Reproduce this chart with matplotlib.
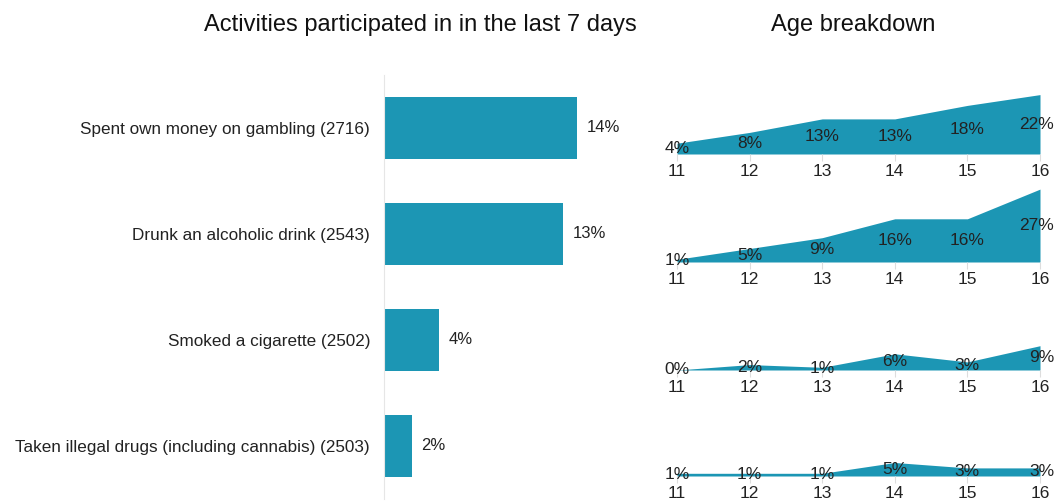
import numpy as np
import matplotlib
matplotlib.use("Agg")
import matplotlib.pyplot as plt

plt.rcParams['font.family'] = ['Liberation Sans', 'DejaVu Sans']

# data
activities = ["Spent own money on gambling (2716)",
              "Drunk an alcoholic drink (2543)",
              "Smoked a cigarette (2502)",
              "Taken illegal drugs (including cannabis) (2503)"]
overall = [14, 13, 4, 2]
ages = [11, 12, 13, 14, 15, 16]
gambling = [4, 8, 13, 13, 18, 22]
alcohol = [1, 5, 9, 16, 16, 27]
cigarette = [0, 2, 1, 6, 3, 9]
drugs = [1, 1, 1, 5, 3, 3]

teal = '#1c96b4'
txt = '#222222'
W, H = 1055, 501

fig = plt.figure(figsize=(W / 100, H / 100), dpi=100)

#-- bar chart
ax = fig.add_axes([384 / W, 2 / H, 260 / W, 424 / H])
y = np.arange(len(activities))
ax.barh(y, overall, height=0.585, color=teal)
ax.set_ylim(len(activities) - 0.5, -0.5)
ax.set_xlim(0, 260 / 13.8)
ax.set_yticks(y)
ax.set_yticklabels(activities, fontsize=12.3, color=txt)
ax.tick_params(axis='y', length=0, pad=10)
ax.set_xticks([])
for s in ['top', 'right', 'bottom']:
    ax.spines[s].set_visible(False)
ax.spines['left'].set_color('#e6e6e6')
for yi, v in zip(y, overall):
    ax.text(v + 0.7, yi, f"{v}%", va='center', ha='left', fontsize=12, color=txt)

fig.text(420 / W, 1 - 25 / H, "Activities participated in in the last 7 days",
         ha='center', va='center', fontsize=17, color='#111111')
fig.text(853 / W, 1 - 25 / H, "Age breakdown",
         ha='center', va='center', fontsize=17, color='#111111')

#-- age breakdown area panels
baselines = [154, 262, 370, 476]
series = [gambling, alcohol, cigarette, drugs]
for base, vals in zip(baselines, series):
    a = fig.add_axes([677 / W, 1 - base / H, 363 / W, 81 / H])
    a.fill_between(ages, 0, vals, color=teal, lw=0)
    a.set_xlim(11, 16)
    a.set_ylim(0, 30)
    a.set_xticks(ages)
    a.set_xticklabels([str(x) for x in ages], fontsize=12.5, color=txt)
    a.tick_params(axis='x', length=5, color='#dddddd', pad=2)
    a.set_yticks([])
    for s in a.spines.values():
        s.set_visible(False)
    for x, v in zip(ages, vals):
        if x == ages[-1]:
            # keep the last label inside the figure edge
            a.annotate(f"{v}%", xy=(x, v / 2), xytext=(10.3, 0),
                       textcoords='offset points', ha='right', va='center',
                       fontsize=12.5, color=txt, annotation_clip=False)
        else:
            a.text(x, v / 2, f"{v}%", ha='center', va='center', fontsize=12.5,
                   color=txt, clip_on=False)

fig.savefig("out.png", dpi=100)
